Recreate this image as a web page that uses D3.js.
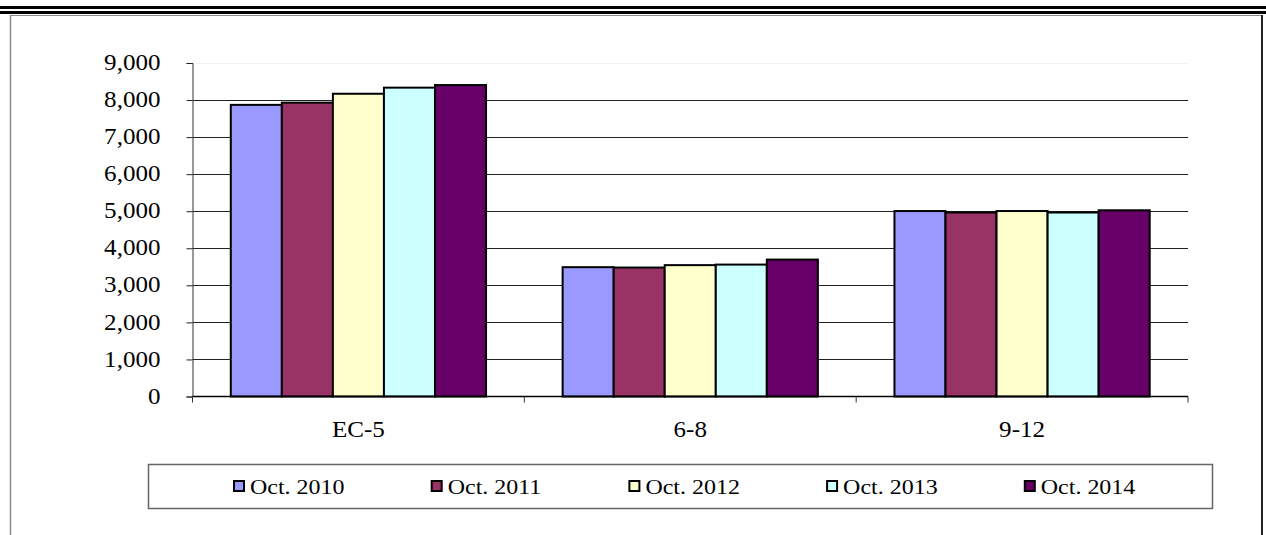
<!DOCTYPE html>
<html>
<head>
<meta charset="utf-8">
<script src="https://cdn.jsdelivr.net/npm/d3@7"></script>
<style>
  body { margin: 0; background: #fff; }
  svg { display: block; }
  svg text { font-family: "Liberation Serif", "Times New Roman", serif; }
</style>
</head>
<body>
<div id="chart"></div>
<script>
const categories = ['EC-5', '6-8', '9-12'];
const seriesNames = ['Oct. 2010', 'Oct. 2011', 'Oct. 2012', 'Oct. 2013', 'Oct. 2014'];
const seriesColors = ['#9999FF', '#993366', '#FFFFCC', '#CCFFFF', '#660066'];
const values2010 = [7870, 3490, 5005];
const values2011 = [7930, 3480, 4965];
const values2012 = [8170, 3545, 5005];
const values2013 = [8335, 3560, 4965];
const values2014 = [8405, 3695, 5025];
const yTicks = [0, 1000, 2000, 3000, 4000, 5000, 6000, 7000, 8000, 9000];

const allValues = [values2010, values2011, values2012, values2013, values2014];

const width = 1266;
const height = 535;
const stretch = 1.09; // text in the picture is slightly wide

const plotLeft = 192.5, plotRight = 1188, plotTop = 63, plotBottom = 396.5;

window.onload = function() {
     drawChart();
};

function drawChart(){
     let svg = d3.select('#chart')
                    .append('svg')
                         .attr('width', width)
                         .attr('height', height);

     // double rule at the top of the page
     svg.append('rect').attr('x', 0).attr('y', 6).attr('width', width).attr('height', 3).attr('fill', '#000');
     svg.append('rect').attr('x', 0).attr('y', 11).attr('width', width).attr('height', 3).attr('fill', '#000');

     // frame
     svg.append('line').attr('x1', 10).attr('x2', 1262).attr('y1', 15.5).attr('y2', 15.5)
          .attr('stroke', '#888').attr('stroke-width', 1);
     svg.append('line').attr('x1', 10.5).attr('x2', 10.5).attr('y1', 15).attr('y2', height)
          .attr('stroke', '#888').attr('stroke-width', 1.5);
     svg.append('line').attr('x1', 1262).attr('x2', 1262).attr('y1', 15).attr('y2', height)
          .attr('stroke', '#222').attr('stroke-width', 2);

     const xScale = d3.scaleBand()
                         .domain(categories)
                         .range([plotLeft, plotRight])
                         .padding(0);
     const step = xScale.bandwidth();
     const barW = step / 6.5;  // excel gap width 150%

     const xInner = d3.scaleBand()
                         .domain(seriesNames)
                         .range([0, barW * 5])
                         .padding(0);

     const yScale = d3.scaleLinear()
                         .domain([0, 9000])
                         .range([plotBottom, plotTop]);

     // gridlines
     svg.append('g').selectAll('line')
          .data(yTicks.filter(d => d > 0))
          .enter()
               .append('line')
                    .attr('x1', plotLeft)
                    .attr('x2', plotRight)
                    .attr('y1', d => Math.round(yScale(d)) + 0.5)
                    .attr('y2', d => Math.round(yScale(d)) + 0.5)
                    .attr('stroke', d => d === 9000 ? '#f2f2f2' : '#222')
                    .attr('stroke-width', 1);

     // y axis
     let yAxis = svg.append('g')
          .attr('transform', `translate(${plotLeft}, 0)`)
          .call(d3.axisLeft(yScale).tickValues(yTicks).tickSize(6).tickPadding(0).tickFormat(d3.format(',')));
     yAxis.attr('font-family', null);
     yAxis.select('.domain').attr('stroke', '#333').attr('stroke-width', 1);
     yAxis.selectAll('.tick line').attr('stroke', '#222');
     yAxis.selectAll('.tick text')
          .attr('x', null)
          .attr('dy', null)
          .attr('dominant-baseline', 'central')
          .attr('text-anchor', 'end')
          .attr('font-size', 23)
          .attr('fill', '#000')
          .attr('transform', `translate(-32, -1) scale(${stretch}, 1)`);

     // bars
     let groups = svg.append('g').selectAll('g')
          .data(categories)
          .enter()
               .append('g')
                    .attr('transform', d => `translate(${xScale(d) + barW * 0.75}, 0)`);

     groups.selectAll('rect')
          .data((c, ci) => seriesNames.map((s, si) => ({ series: s, value: allValues[si][ci], color: seriesColors[si] })))
          .enter()
               .append('rect')
                    .attr('x', d => xInner(d.series))
                    .attr('y', d => yScale(d.value))
                    .attr('width', xInner.bandwidth())
                    .attr('height', d => plotBottom - yScale(d.value))
                    .attr('fill', d => d.color)
                    .attr('stroke', '#000')
                    .attr('stroke-width', 2);

     // x axis
     let xAxisG = svg.append('g');
     xAxisG.append('line')
          .attr('x1', plotLeft).attr('x2', plotRight)
          .attr('y1', plotBottom).attr('y2', plotBottom)
          .attr('stroke', '#000').attr('stroke-width', 1.5);
     xAxisG.selectAll('line.tick')
          .data(categories.concat(['end']))
          .enter()
               .append('line')
                    .attr('class', 'tick')
                    .attr('x1', (d, i) => i < categories.length ? xScale(d) : plotRight)
                    .attr('x2', (d, i) => i < categories.length ? xScale(d) : plotRight)
                    .attr('y1', plotBottom)
                    .attr('y2', plotBottom + 6)
                    .attr('stroke', '#333');
     xAxisG.selectAll('text')
          .data(categories)
          .enter()
               .append('text')
                    .attr('transform', d => `translate(${xScale(d) + step / 2}, 437) scale(${stretch}, 1)`)
                    .attr('text-anchor', 'middle')
                    .attr('font-size', 23)
                    .text(d => d);

     // legend
     let legend = svg.append('g');
     legend.append('rect')
          .attr('x', 148.5).attr('y', 464.5)
          .attr('width', 1064).attr('height', 44)
          .attr('fill', 'none')
          .attr('stroke', '#666')
          .attr('stroke-width', 1.5);

     let items = legend.selectAll('g.item')
          .data(seriesNames)
          .enter()
               .append('g')
                    .attr('class', 'item')
                    .attr('transform', (d, i) => `translate(${234 + i * 197.7}, 0)`);
     items.append('rect')
          .attr('x', 0).attr('y', 481)
          .attr('width', 10).attr('height', 10)
          .attr('fill', (d, i) => seriesColors[i])
          .attr('stroke', '#000')
          .attr('stroke-width', 2);
     items.append('text')
          .attr('transform', `translate(16, 494) scale(${stretch}, 1)`)
          .attr('font-size', 22)
          .text(d => d);
}
</script>
</body>
</html>
